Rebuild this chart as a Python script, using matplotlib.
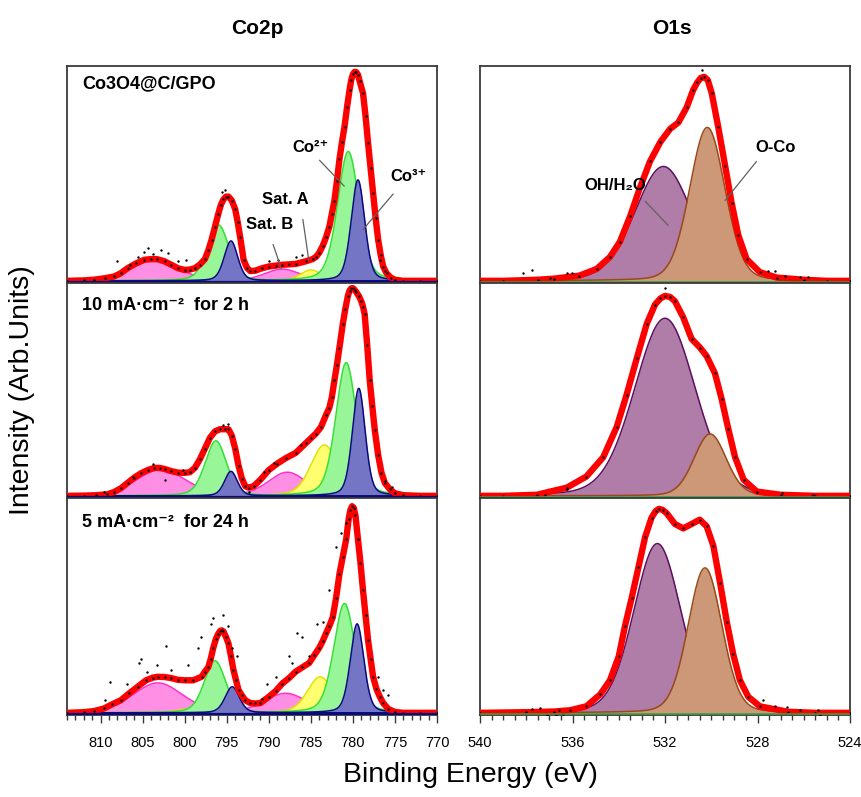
import numpy as np
import matplotlib.pyplot as plt
from matplotlib.ticker import MultipleLocator

plt.rcParams['font.family'] = ['Liberation Sans', 'DejaVu Sans']

co_env_top = [(814, 0), (812, 0.002), (810.8, 0.005), (809.5, 0.012), (808.4, 0.02), (807.6, 0.035), (806.8, 0.058),
              (805.8, 0.08), (804.8, 0.097), (804.0, 0.10), (803.3, 0.10), (802.4, 0.09), (801.6, 0.074), (800.8, 0.058),
              (800.0, 0.05), (799.4, 0.052), (798.8, 0.058), (798.2, 0.075), (797.6, 0.10), (797.2, 0.14), (796.8, 0.19),
              (796.4, 0.25), (796.0, 0.31), (795.7, 0.35), (795.4, 0.375), (795.1, 0.388), (794.8, 0.388), (794.4, 0.37),
              (794.0, 0.33), (793.7, 0.27), (793.4, 0.20), (793.0, 0.097), (792.6, 0.06), (792.2, 0.045), (791.6, 0.047),
              (790.8, 0.058), (790.0, 0.066), (789.2, 0.07), (788.4, 0.074), (787.6, 0.076), (786.8, 0.078), (785.6, 0.09),
              (784.8, 0.10), (784.4, 0.11), (784.0, 0.13), (783.6, 0.16), (783.2, 0.20), (782.8, 0.25), (782.5, 0.31),
              (782.2, 0.37), (781.9, 0.46), (781.6, 0.56), (781.3, 0.64), (781.0, 0.71), (780.7, 0.80), (780.4, 0.88),
              (780.2, 0.925), (780.0, 0.952), (779.8, 0.963), (779.6, 0.962), (779.4, 0.95), (779.2, 0.92),
              (778.8, 0.865), (778.5, 0.76), (778.2, 0.635), (777.9, 0.52), (777.6, 0.405), (777.3, 0.29), (777.0, 0.19),
              (776.7, 0.12), (776.4, 0.066), (776.0, 0.035), (775.5, 0.015), (775.0, 0.005), (774.0, 0), (772, 0),
              (770, 0)]
co_env_mid = [(814, 0), (812, 0.001), (810.5, 0.003), (809.2, 0.007), (808.4, 0.018), (807.6, 0.035), (806.8, 0.06),
              (806.0, 0.085), (805.2, 0.105), (804.4, 0.12), (803.6, 0.13), (803.0, 0.13), (802.4, 0.125), (801.6, 0.115),
              (800.8, 0.108), (800.0, 0.107), (799.4, 0.11), (798.8, 0.13), (798.2, 0.17), (797.6, 0.22), (797.0, 0.27),
              (796.4, 0.30), (795.8, 0.31), (795.2, 0.31), (794.8, 0.31), (794.4, 0.28), (794.0, 0.22), (793.6, 0.14),
              (793.2, 0.08), (792.8, 0.045), (792.4, 0.038), (791.8, 0.045), (791.0, 0.075), (790.0, 0.12), (789.0, 0.15),
              (788.0, 0.175), (786.8, 0.20), (785.6, 0.245), (784.4, 0.29), (783.8, 0.32), (783.2, 0.376), (782.8, 0.41),
              (782.5, 0.46), (782.2, 0.537), (781.9, 0.61), (781.6, 0.69), (781.2, 0.80), (780.9, 0.87), (780.6, 0.93),
              (780.4, 0.955), (780.2, 0.965), (780.0, 0.966), (779.8, 0.958), (779.6, 0.948), (779.3, 0.93),
              (779.0, 0.905), (778.8, 0.88), (778.6, 0.844), (778.3, 0.70), (778.0, 0.537), (777.7, 0.42),
              (777.4, 0.306), (777.0, 0.19), (776.6, 0.107), (776.2, 0.06), (775.6, 0.03), (775.0, 0.012), (774, 0.003),
              (772, 0), (770, 0)]
co_env_bot = [(814, 0), (812, 0.003), (810.8, 0.008), (809.6, 0.02), (808.6, 0.04), (807.6, 0.058), (806.6, 0.09),
              (805.6, 0.12), (804.6, 0.15), (803.8, 0.162), (803.2, 0.166), (802.4, 0.165), (801.6, 0.16), (800.8, 0.152),
              (800.0, 0.15), (799.0, 0.15), (798.0, 0.166), (797.6, 0.19), (797.2, 0.21), (796.9, 0.25), (796.6, 0.30),
              (796.3, 0.34), (796.0, 0.365), (795.8, 0.377), (795.6, 0.38), (795.4, 0.375), (795.1, 0.35), (794.8, 0.32),
              (794.5, 0.26), (794.2, 0.197), (793.9, 0.15), (793.6, 0.105), (793.2, 0.08), (792.8, 0.058), (792.2, 0.045),
              (791.6, 0.043), (791.0, 0.045), (790.0, 0.074), (789.2, 0.10), (788.4, 0.135), (787.6, 0.16), (786.8, 0.19),
              (786.0, 0.21), (785.2, 0.23), (784.6, 0.265), (784.0, 0.30), (783.6, 0.33), (783.2, 0.366), (782.8, 0.40),
              (782.4, 0.44), (782.0, 0.53), (781.6, 0.64), (781.2, 0.72), (780.8, 0.80), (780.5, 0.895), (780.3, 0.935),
              (780.1, 0.952), (779.9, 0.945), (779.7, 0.91), (779.4, 0.80), (779.1, 0.69), (778.8, 0.565), (778.5, 0.45),
              (778.2, 0.335), (777.9, 0.25), (777.6, 0.166), (777.2, 0.11), (776.8, 0.074), (776.4, 0.045),
              (775.8, 0.018), (775.0, 0.004), (774, 0), (772, 0), (770, 0)]

o_env_top = [(540, 0), (539, 0), (537.5, 0.005), (536.8, 0.01), (535.7, 0.024), (534.95, 0.055), (534.38, 0.11),
             (533.95, 0.18), (533.5, 0.30), (533.08, 0.43), (532.65, 0.55), (532.2, 0.64), (531.78, 0.70), (531.42, 0.73),
             (531.06, 0.80), (530.78, 0.88), (530.6, 0.915), (530.45, 0.935), (530.3, 0.94), (530.15, 0.925),
             (529.98, 0.865), (529.7, 0.71), (529.4, 0.53), (529.12, 0.36), (528.83, 0.21), (528.47, 0.10),
             (527.9, 0.04), (527.17, 0.015), (526, 0.005), (525, 0), (524, 0)]
o_env_mid = [(540, 0), (539, 0), (537.55, 0.005), (536.25, 0.038), (535.4, 0.09), (534.67, 0.18), (534.09, 0.32),
             (533.66, 0.47), (533.22, 0.64), (532.79, 0.80), (532.43, 0.89), (532.2, 0.918), (532.0, 0.93),
             (531.78, 0.925), (531.57, 0.905), (531.21, 0.83), (530.85, 0.73), (530.49, 0.69), (530.2, 0.65),
             (529.84, 0.57), (529.55, 0.45), (529.26, 0.31), (528.97, 0.18), (528.6, 0.075), (528.03, 0.02),
             (527, 0.005), (525.5, 0), (524, 0)]
o_env_bot = [(540, 0), (538, 0.003), (536.8, 0.006), (536.1, 0.012), (535.4, 0.03), (534.8, 0.085), (534.38, 0.15),
             (534.0, 0.26), (533.73, 0.40), (533.44, 0.53), (533.15, 0.67), (532.86, 0.81), (532.58, 0.90),
             (532.4, 0.93), (532.26, 0.94), (532.1, 0.935), (531.93, 0.92), (531.57, 0.87), (531.21, 0.85),
             (530.85, 0.87), (530.5, 0.89), (530.2, 0.86), (529.91, 0.77), (529.62, 0.60), (529.33, 0.42),
             (529.05, 0.27), (528.76, 0.15), (528.4, 0.074), (527.9, 0.03), (526.7, 0.005), (525.5, 0), (524, 0)]

# scattered raw points away from the fit
co_pts_top = [(808.0, 0.09), (806.5, 0.075), (805.6, 0.11), (804.8, 0.135), (804.4, 0.15), (803.8, 0.125),
              (802.8, 0.143), (802.0, 0.13), (800.8, 0.09), (799.8, 0.097), (795.6, 0.41), (795.2, 0.42),
              (790.0, 0.09), (788.9, 0.095), (786.8, 0.11), (786.0, 0.12), (776.8, 0.097), (776.2, 0.043)]
co_pts_mid = [(809.6, 0.02), (806.2, 0.09), (803.8, 0.15), (802.4, 0.076), (800.2, 0.12), (795.5, 0.33),
              (794.9, 0.335), (792.4, 0.02), (790.6, 0.11), (789.4, 0.155), (786.2, 0.235), (785.0, 0.27),
              (776.2, 0.07), (775.4, 0.04)]
co_pts_bot = [(808.84, 0.143), (809.44, 0.059), (805.24, 0.25), (805.4, 0.23), (802.24, 0.31), (803.24, 0.22),
              (801.64, 0.197), (806.83, 0.135), (804.43, 0.19), (799.63, 0.22), (798.43, 0.297), (798.03, 0.35),
              (796.83, 0.41), (796.63, 0.435), (795.43, 0.45), (794.83, 0.40), (794.43, 0.30), (793.83, 0.26),
              (793.2, -0.018), (790.8, 0.066), (790.2, 0.135), (789.2, 0.166), (787.6, 0.26), (787.3, 0.23),
              (786.63, 0.366), (786.03, 0.35), (785.22, 0.26), (784.23, 0.41), (783.6, 0.42), (782.83, 0.565),
              (782.03, 0.765), (781.4, 0.83), (780.83, 0.873), (777.03, 0.166), (776.43, 0.105), (775.83, 0.08)]
o_pts_top = [(538.13, 0.035), (537.76, 0.05), (536.25, 0.035), (536.03, 0.034), (536.97, 0.011), (527.53, 0.043),
             (527.24, 0.045), (526.81, 0.02), (526.16, 0.018), (525.8, 0.016), (530.4, 0.97)]
o_pts_mid = [(536.25, 0.033), (537.2, 0.004), (526.95, 0.012), (525.6, 0.003), (532.0, 0.965)]
o_pts_bot = [(537.76, 0.016), (537.4, 0.02), (537.1, -0.01), (536.7, -0.01), (536.4, -0.007), (536.6, 0.015),
             (527.75, 0.057), (527.24, 0.03), (526.74, 0.025), (526.16, 0.015), (525.37, 0.012), (525.3, -0.01)]

# fitted components: Co3+ 2p3/2, Co2+ 2p3/2, Sat. A, Sat. B, Co3+ 2p1/2, Co2+ 2p1/2, Sat. A', Sat. B'
co_kind = ['co3', 'co2', 'satA', 'satB', 'co3', 'co2', 'satA', 'satB']
co_center_top = [779.4, 780.55, 785.0, 788.4, 794.5, 796.0, 799.5, 803.6]
co_height_top = [0.465, 0.596, 0.05, 0.054, 0.184, 0.258, 0.012, 0.10]
co_fwhm_top = [1.9, 3.0, 3.0, 5.0, 1.9, 3.0, 3.0, 6.5]
co_center_mid = [779.3, 780.8, 783.4, 787.8, 794.5, 796.3, 798.4, 802.8]
co_height_mid = [0.50, 0.62, 0.237, 0.11, 0.114, 0.256, 0.015, 0.122]
co_fwhm_mid = [1.8, 2.9, 3.8, 5.4, 1.8, 3.0, 3.0, 7.0]
co_center_bot = [779.5, 781.0, 783.9, 788.0, 794.35, 796.4, 799.0, 803.2]
co_height_bot = [0.41, 0.504, 0.166, 0.09, 0.12, 0.24, 0.02, 0.138]
co_fwhm_bot = [1.9, 3.0, 3.6, 6.0, 2.0, 3.0, 4.0, 7.0]

# O1s components: OH/H2O, O-Co
o_kind = ['oh', 'oco']
o_center_top = [532.07, 530.17]
o_height_top = [0.527, 0.707]
o_fwhm_top = [2.9, 1.8]
o_center_mid = [532.0, 530.05]
o_height_mid = [0.826, 0.288]
o_fwhm_mid = [3.1, 1.65]
o_center_bot = [532.33, 530.27]
o_height_bot = [0.78, 0.668]
o_fwhm_bot = [2.4, 1.73]

panel_labels = ['Co3O4@C/GPO', '10 mA·cm⁻²  for 2 h', '5 mA·cm⁻²  for 24 h']

styles = {
	'satB': ('#ff8fe4', '#ff30cc'),
	'satA': ('#ffff70', '#e2e200'),
	'co2': ('#98f598', '#33e033'),
	'co3': ('#7575c6', '#0a0a80'),
	'oh': ('#b07ca8', '#5c1060'),
	'oco': ('#cc9878', '#9a4a18'),
}


def peak(x, c, h, w, eta=0.25):
	g = np.exp(-4 * np.log(2) * (x - c) ** 2 / w ** 2)
	lz = 1 / (1 + 4 * (x - c) ** 2 / w ** 2)
	return h * ((1 - eta) * g + eta * lz)


def draw_panel(ax, xgrid, kinds, order, centers, heights, fwhms, env, pts, eta):
	z = 2.0
	for k in order:
		for kind, c, h, w in zip(kinds, centers, heights, fwhms):
			if kind != k:
				continue
			y = peak(xgrid, c, h, w, eta)
			face, edge = styles[kind]
			ax.fill_between(xgrid, 0, y, color=face, lw=0, zorder=z)
			ax.plot(xgrid, y, color=edge, lw=1.1, zorder=z + 0.01)
			z += 0.05
	env = np.array(env)
	ax.plot(env[:, 0], env[:, 1], color='#ff0000', lw=4.6, solid_joinstyle='round', zorder=3)
	ax.scatter(env[:, 0], env[:, 1], s=3, color='black', zorder=4, lw=0)
	pts = np.array(pts)
	ax.scatter(pts[:, 0], pts[:, 1], s=3, color='black', zorder=4, lw=0)
	ax.set_ylim(-0.01, 0.99)
	for s in ax.spines.values():
		s.set_color('#3a3a3a')
		s.set_linewidth(1.3)
	ax.tick_params(left=False, labelleft=False, bottom=False, labelbottom=False)


fig = plt.figure(figsize=(8.62, 7.97), dpi=100)
W, H = 862, 797
rows = [(66, 283), (283, 498), (498, 715)]

co_sets = [
	(co_center_top, co_height_top, co_fwhm_top, co_env_top, co_pts_top),
	(co_center_mid, co_height_mid, co_fwhm_mid, co_env_mid, co_pts_mid),
	(co_center_bot, co_height_bot, co_fwhm_bot, co_env_bot, co_pts_bot),
]
o_sets = [
	(o_center_top, o_height_top, o_fwhm_top, o_env_top, o_pts_top),
	(o_center_mid, o_height_mid, o_fwhm_mid, o_env_mid, o_pts_mid),
	(o_center_bot, o_height_bot, o_fwhm_bot, o_env_bot, o_pts_bot),
]

x_co = np.linspace(814, 770, 1200)
x_o = np.linspace(540, 524, 800)
label_y = [0.917, 0.895, 0.887]
axes_co, axes_o = [], []

for i, (top, bot) in enumerate(rows):
	axc = fig.add_axes([67 / W, 1 - bot / H, 370 / W, (bot - top) / H])
	c, h, w, env, pts = co_sets[i]
	draw_panel(axc, x_co, co_kind, ['satB', 'satA', 'co2', 'co3'], c, h, w, env, pts, 0.3)
	axc.axhline(-0.004, color='#0a0a80', lw=1.6, zorder=5)
	axc.set_xlim(814, 770)
	axc.text(0.04, label_y[i], panel_labels[i], transform=axc.transAxes, fontsize=13,
			 fontweight='bold', ha='left', va='center')
	axes_co.append(axc)

	axo = fig.add_axes([480 / W, 1 - bot / H, 370 / W, (bot - top) / H])
	c, h, w, env, pts = o_sets[i]
	draw_panel(axo, x_o, o_kind, ['oh', 'oco'], c, h, w, env, pts, 0.15)
	axo.axhline(-0.005, color='#3a9a3a', lw=1.2, zorder=5)
	axo.set_xlim(540, 524)
	axes_o.append(axo)

# bottom axes ticks
axc, axo = axes_co[-1], axes_o[-1]
for ax, major, minor in [(axc, 5, 1), (axo, 4, 0.5)]:
	ax.tick_params(bottom=True, labelbottom=True)
	ax.xaxis.set_major_locator(MultipleLocator(major))
	ax.xaxis.set_minor_locator(MultipleLocator(minor))
	ax.tick_params(axis='x', which='major', direction='out', length=6, width=1, color='#3a3a3a',
				   labelsize=10.5, pad=9)
	ax.tick_params(axis='x', which='minor', direction='out', length=3.5, width=1, color='#3a3a3a')
axo.set_xticks([540, 536, 532, 528, 524])

# peak annotations
ann_kw = dict(fontsize=12, fontweight='bold', ha='center', va='center', zorder=6)
line_kw = dict(arrowprops=dict(arrowstyle='-', color='#606060', lw=0.9), zorder=6)
a = axes_co[0]
a.text(785.07, 0.615, 'Co²⁺', **ann_kw)
a.annotate('', xy=(780.8, 0.427), xytext=(784.2, 0.565), **line_kw)
a.text(773.4, 0.48, 'Co³⁺', **ann_kw)
a.annotate('', xy=(779.0, 0.227), xytext=(775.0, 0.41), **line_kw)
a.text(788.0, 0.373, 'Sat. A', **ann_kw)
a.annotate('', xy=(785.2, 0.082), xytext=(786.0, 0.296), **line_kw)
a.text(789.9, 0.26, 'Sat. B', **ann_kw)
a.annotate('', xy=(788.4, 0.043), xytext=(789.6, 0.18), **line_kw)

a = axes_o[0]
a.text(534.16, 0.44, 'OH/H₂O', **ann_kw)
a.annotate('', xy=(531.78, 0.246), xytext=(532.94, 0.376), **line_kw)
a.text(527.24, 0.616, 'O-Co', **ann_kw)
a.annotate('', xy=(529.48, 0.36), xytext=(527.97, 0.56), **line_kw)

fig.text(257 / W, 1 - 28 / H, 'Co2p', fontsize=15, fontweight='bold', ha='center', va='center')
fig.text(672 / W, 1 - 28 / H, 'O1s', fontsize=15, fontweight='bold', ha='center', va='center')
fig.text(22 / W, 1 - 390 / H, 'Intensity (Arb.Units)', fontsize=20.5, rotation=90, ha='center', va='center')
fig.text(470 / W, 1 - 775 / H, 'Binding Energy (eV)', fontsize=20.5, ha='center', va='center')

fig.savefig('out.png', dpi=100)
